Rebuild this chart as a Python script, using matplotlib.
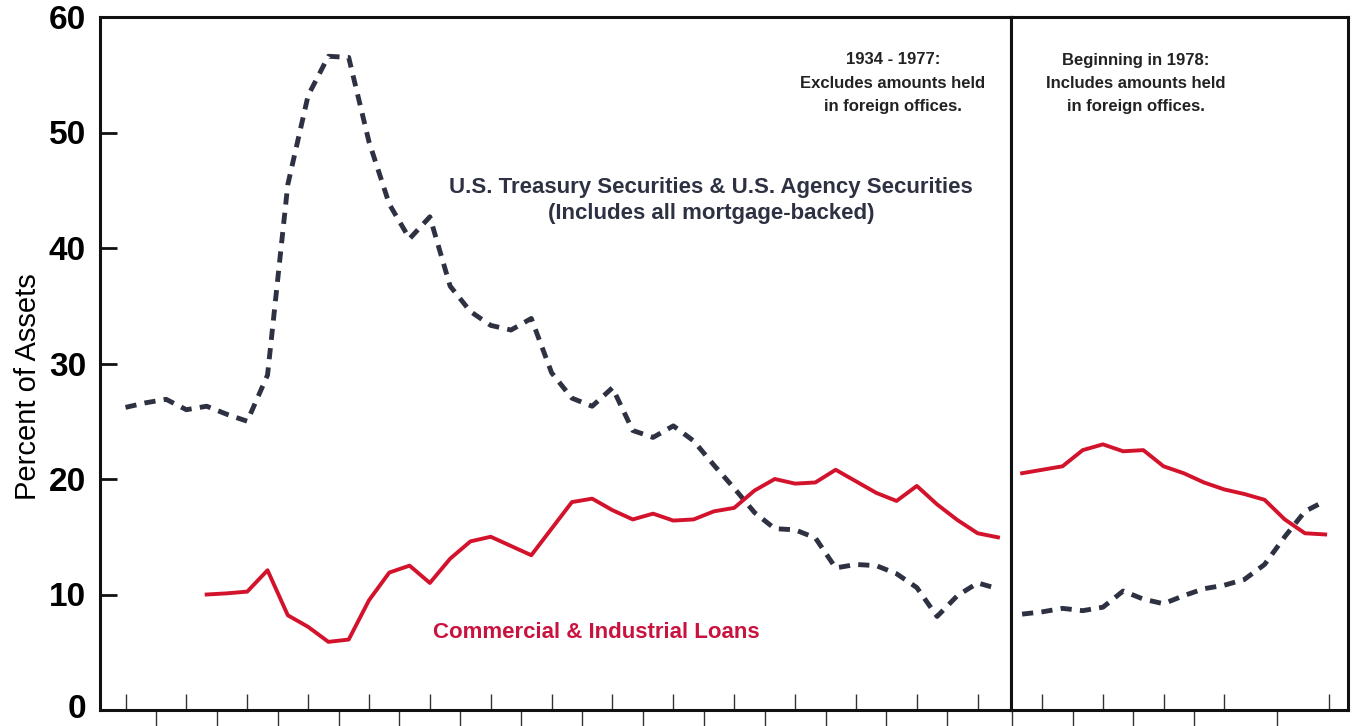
import matplotlib
matplotlib.use("Agg")
import matplotlib.pyplot as plt
import matplotlib.transforms as mtransforms

plt.rcParams['font.family'] = ['Liberation Sans', 'DejaVu Sans']

# ---------------- data ----------------
years_left = list(range(1934, 1978))
treasury_left = [26.2, 26.6, 26.9, 26.0, 26.3, 25.6, 25.0, 29.0, 45.5, 53.2,
                 56.6, 56.5, 49.2, 43.8, 40.8, 42.7, 36.7, 34.5, 33.3, 32.9,
                 33.9, 29.2, 27.0, 26.3, 27.9, 24.2, 23.6, 24.6, 23.3, 21.2,
                 19.2, 17.1, 15.7, 15.6, 14.9, 12.3, 12.6, 12.5, 11.8, 10.6,
                 8.1, 9.9, 11.0, 10.5]
years_cil_left = list(range(1938, 1978))
cil_left = [10.0, 10.1, 10.25, 12.1, 8.2, 7.2, 5.9, 6.1, 9.5, 11.9,
            12.5, 11.0, 13.1, 14.6, 15.0, 14.2, 13.4, 15.7, 18.0, 18.3,
            17.3, 16.5, 17.0, 16.4, 16.5, 17.2, 17.5, 19.0, 20.0, 19.6,
            19.7, 20.8, 19.8, 18.8, 18.1, 19.4, 17.8, 16.45, 15.3, 14.95]

years_right = list(range(1978, 1994))
treasury_right = [8.3, 8.5, 8.8, 8.6, 8.9, 10.3, 9.6, 9.2, 9.9, 10.5,
                  10.8, 11.3, 12.6, 15.0, 17.2, 18.1]
cil_right = [20.5, 20.8, 21.1, 22.5, 23.0, 22.4, 22.5, 21.1, 20.5, 19.7,
             19.1, 18.7, 18.2, 16.5, 15.3, 15.2]

y_ticks = [0, 10, 20, 30, 40, 50, 60]
left_up_ticks = list(range(1934, 1977, 3))
left_down_ticks = [1935.5 + 3 * i for i in range(14)]
right_up_ticks = [1979, 1982, 1985, 1988, 1993.2]
right_down_ticks = [1977.5, 1980.5, 1983.5, 1986.5, 1990.6]

# ---------------- style ----------------
W, H = 1354, 726
RED = '#d3122c'
RED_TXT = '#c9123e'
NAVY = '#2d3142'
DASH = (0, (2.3, 1.7))

fig = plt.figure(figsize=(W / 100, H / 100), dpi=100)
fig.patch.set_facecolor('white')

bottom = (H - 710) / H
height = 693 / H
axL = fig.add_axes([100 / W, bottom, (1011 - 100) / W, height])
axR = fig.add_axes([1011 / W, bottom, (1348 - 1011) / W, height])

for ax in (axL, axR):
    ax.set_ylim(0, 60)
    for sp in ax.spines.values():
        sp.set_linewidth(2.2)
        sp.set_color('#111111')
    ax.tick_params(axis='x', which='major', direction='in', length=11.5,
                   width=1.0, color='#333333', labelbottom=False)
    ax.tick_params(axis='x', which='minor', direction='out', length=13,
                   width=1.0, color='#333333', labelbottom=False)

axL.set_xlim(1932.743, 1977.642)
axR.set_xlim(1977.45, 1994.13)

axL.plot(years_left, treasury_left, color=NAVY, lw=3.5, linestyle=DASH)
axL.plot(years_cil_left, cil_left, color=RED, lw=2.8)
axR.plot(years_right, treasury_right, color=NAVY, lw=3.5, linestyle=DASH)
axR.plot(years_right, cil_right, color=RED, lw=2.8)

axL.set_xticks(left_up_ticks)
axL.set_xticks(left_down_ticks, minor=True)
axR.set_xticks(right_up_ticks)
axR.set_xticks(right_down_ticks, minor=True)

axL.set_yticks(y_ticks)
axL.set_yticklabels([str(v) for v in y_ticks], fontsize=24, fontweight='bold')
axL.tick_params(axis='y', direction='in', length=12, width=2.0, pad=10,
                color='#111111', right=False)
axR.set_yticks([])

# nudge the bottom "0" label up slightly so it stays inside the canvas
zero_lbl = axL.get_yticklabels()[0]
zero_lbl.set_transform(zero_lbl.get_transform() +
                       mtransforms.ScaledTranslation(0, 4 / 100, fig.dpi_scale_trans))

axL.set_ylabel('Percent of Assets', fontsize=21)
axL.yaxis.set_label_coords(-0.064, 0.467)

# ---------------- annotations ----------------
def ft(px, py, s, **kw):
    fig.text(px / W, 1 - py / H, s, ha='center', va='center', **kw)

ft(711, 188, 'U.S. Treasury Securities & U.S. Agency Securities',
   fontsize=16, fontweight='bold', color=NAVY)
ft(711, 213, '(Includes all mortgage-backed)',
   fontsize=16, fontweight='bold', color=NAVY)
ft(596, 633, 'Commercial & Industrial Loans',
   fontsize=16, fontweight='bold', color=RED_TXT)

for i, line in enumerate(['1934 - 1977:', 'Excludes amounts held',
                          'in foreign offices.']):
    ft(893, 60 + 23.5 * i, line, fontsize=12, fontweight='bold', color='#222222')
for i, line in enumerate(['Beginning in 1978:', 'Includes amounts held',
                          'in foreign offices.']):
    ft(1136, 60 + 23.5 * i, line, fontsize=12, fontweight='bold', color='#222222')

fig.savefig('out.png', dpi=100, facecolor='white')
